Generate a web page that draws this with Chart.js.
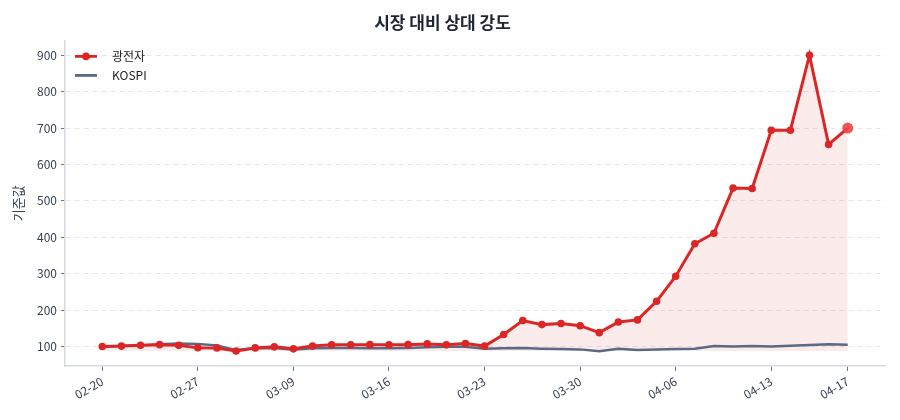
<!DOCTYPE html>
<html>
<head>
<meta charset="utf-8">
<script src="https://cdn.jsdelivr.net/npm/chart.js@4.4.1/dist/chart.umd.min.js"></script>
<style>
  html, body { margin: 0; padding: 0; background: #fff; }
  #wrap { width: 900px; height: 420px; }
</style>
</head>
<body>
<div id="wrap"><canvas id="chart" width="900" height="420"></canvas></div>
<script>
// trading days (2026)
const dates = [
  "02-20", "02-23", "02-24", "02-25", "02-26", "02-27",
  "03-03", "03-04", "03-05", "03-06", "03-09", "03-10",
  "03-11", "03-12", "03-13", "03-16", "03-17", "03-18",
  "03-19", "03-20", "03-23", "03-24", "03-25", "03-26",
  "03-27", "03-30", "03-31", "04-01", "04-02", "04-03",
  "04-06", "04-07", "04-08", "04-09", "04-10", "04-13",
  "04-14", "04-15", "04-16", "04-17"
];
const stockValues = [
  100, 101, 103.5, 105, 103, 96.5,
  96, 87.5, 96, 99, 93.5, 101,
  104.5, 104.5, 105, 104.5, 105, 107,
  104.5, 108, 101, 133, 171, 160,
  163, 157, 138, 167, 173, 224,
  293, 382, 411, 535, 534, 694,
  694, 900, 655, 700
];
const kospiValues = [
  100, 101, 103, 106, 108, 107,
  103, 90, 95, 96, 91, 95,
  96, 96, 95, 95, 96, 98,
  99, 99, 94, 95, 96, 94,
  93, 92, 87, 94, 90, 92,
  93, 94, 101, 100, 101, 100,
  102, 104, 106, 105
];
const yTicks = [100, 200, 300, 400, 500, 600, 700, 800, 900];
const xTickIdx = [0, 5, 10, 15, 20, 25, 30, 35, 39];

const RED = "#dc2626";
const SLATE = "#5a6a84";
const FONT = "'Noto Sans CJK KR', 'Noto Sans', sans-serif";

const all = stockValues.concat(kospiValues);
const lo = Math.min(...all), hi = Math.max(...all);
const yPad = (hi - lo) * 0.05;
const xPad = (dates.length - 1) * 0.05;
const last = dates.length - 1;

// legend drawn inside the plot, top-left (line + dot for the stock)
const insideLegend = {
  id: "insideLegend",
  afterDraw(chart) {
    const { ctx, chartArea } = chart;
    const x0 = chartArea.left + 10;
    chart.data.datasets.forEach((ds, i) => {
      const y = chartArea.top + 16 + i * 19;
      ctx.save();
      ctx.strokeStyle = ds.borderColor;
      ctx.lineWidth = 2.8;
      ctx.beginPath();
      ctx.moveTo(x0, y);
      ctx.lineTo(x0 + 22, y);
      ctx.stroke();
      if (i === 0) {
        ctx.fillStyle = ds.borderColor;
        ctx.beginPath();
        ctx.arc(x0 + 11, y, 3.8, 0, Math.PI * 2);
        ctx.fill();
      }
      ctx.fillStyle = "#222";
      ctx.font = "12px " + FONT;
      ctx.textBaseline = "middle";
      ctx.fillText(ds.label, x0 + 37, y);
      ctx.restore();
    });
  },
};

const ctx = document.getElementById("chart").getContext("2d");
new Chart(ctx, {
  type: "line",
  data: {
    datasets: [
      {
        label: "광전자",
        data: stockValues.map((v, i) => ({ x: i, y: v })),
        borderColor: RED,
        borderWidth: 3,
        backgroundColor: "rgba(220, 38, 38, 0.09)",
        fill: { value: Math.min(...stockValues) },
        pointRadius: (c) => (c.dataIndex === last ? 5.5 : 3.8),
        pointBackgroundColor: (c) => (c.dataIndex === last ? "rgba(239, 68, 68, 0.9)" : RED),
        pointBorderWidth: 0,
        tension: 0,
      },
      {
        label: "KOSPI",
        data: kospiValues.map((v, i) => ({ x: i, y: v })),
        borderColor: SLATE,
        borderWidth: 2.5,
        pointRadius: 0,
        fill: false,
        tension: 0,
      },
    ],
  },
  plugins: [insideLegend],
  options: {
    responsive: false,
    animation: false,
    layout: { padding: { left: 0, right: 15, top: 0, bottom: 0 } },
    plugins: {
      filler: { drawTime: "beforeDatasetsDraw" },
      tooltip: { enabled: false },
      legend: { display: false },
      title: {
        display: true,
        text: "시장 대비 상대 강도",
        color: "#1f2433",
        font: { family: FONT, size: 17, weight: "bold" },
        padding: { top: 12, bottom: 8 },
      },
    },
    scales: {
      x: {
        type: "linear",
        min: -xPad,
        max: last + xPad,
        afterBuildTicks: (s) => { s.ticks = xTickIdx.map((v) => ({ value: v })); },
        afterFit: (s) => { s.height = 54; },
        grid: { drawOnChartArea: false, drawTicks: true, tickLength: 5, tickColor: "#6b7280" },
        border: { display: true, color: "#d5dae2", width: 1.5 },
        ticks: {
          autoSkip: false,
          minRotation: 30,
          maxRotation: 30,
          padding: 3,
          color: "#374151",
          font: { family: FONT, size: 12 },
          callback: (v) => dates[v],
        },
      },
      y: {
        min: lo - yPad,
        max: hi + yPad,
        afterBuildTicks: (s) => { s.ticks = yTicks.map((v) => ({ value: v })); },
        afterFit: (s) => { s.width = 65; },
        grid: { color: "#e5e7eb", lineWidth: 1, drawTicks: true, tickLength: 4, tickColor: "#6b7280" },
        border: { display: true, color: "#d5dae2", width: 1.5, dash: [5, 4] },
        ticks: {
          padding: 4,
          color: "#374151",
          font: { family: FONT, size: 12 },
        },
        title: {
          display: true,
          text: "기준값",
          color: "#374151",
          font: { family: FONT, size: 13 },
          padding: { top: 10, bottom: 0 },
        },
      },
    },
  },
});
</script>
</body>
</html>
